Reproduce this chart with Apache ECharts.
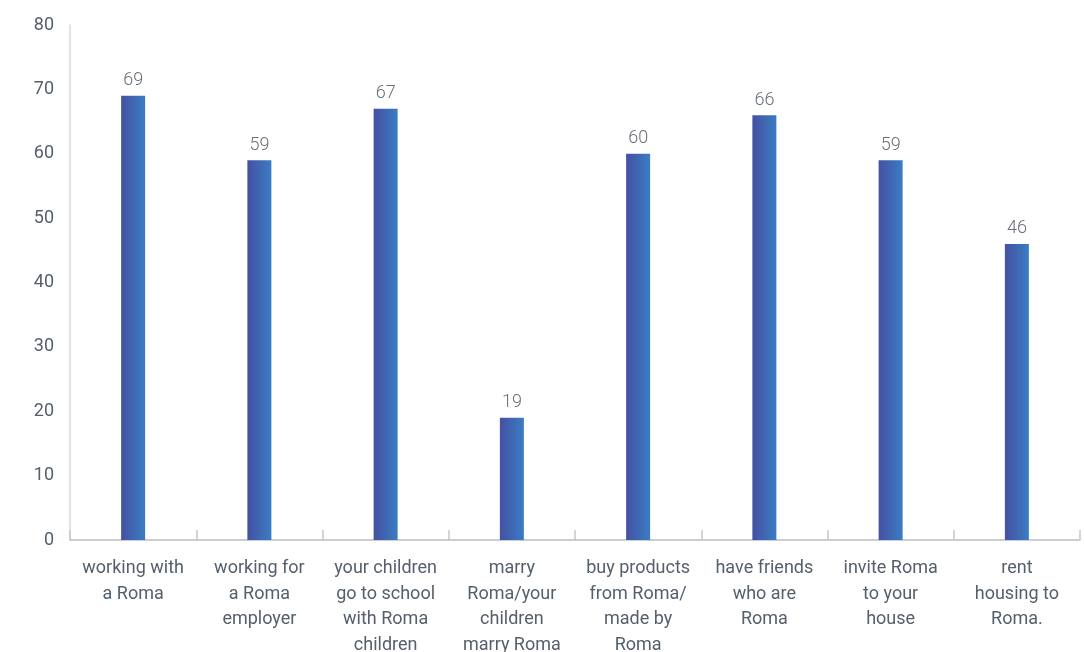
<!DOCTYPE html>
<html><head><meta charset="utf-8">
<script src="https://cdn.jsdelivr.net/npm/echarts@6/dist/echarts.min.js"></script>
<style>html,body{margin:0;padding:0;background:#fff}#c{width:1084px;height:652px}</style>
</head><body><div id="c"></div>
<script>
const categories = [
  "working with\na Roma",
  "working for\na Roma\nemployer",
  "your children\ngo to school\nwith Roma\nchildren",
  "marry\nRoma/your\nchildren\nmarry Roma",
  "buy products\nfrom Roma/\nmade by\nRoma",
  "have friends\nwho are\nRoma",
  "invite Roma\nto your\nhouse",
  "rent\nhousing to\nRoma."
];
const values = [69, 59, 67, 19, 60, 66, 59, 46];

const chart = echarts.init(document.getElementById('c'), null, {renderer: 'canvas'});
chart.setOption({
  animation: false,
  backgroundColor: '#ffffff',
  grid: {left: 70, right: 4, top: 25, bottom: 112, containLabel: false, outerBoundsMode: 'none'},
  xAxis: {
    type: 'category',
    data: categories,
    axisLine: {lineStyle: {color: '#b9bec4', width: 1.5}},
    axisTick: {show: true, inside: true, length: 10, lineStyle: {color: '#c4c8cd', width: 1.5}},
    axisLabel: {
      interval: 0, margin: 16, color: '#55606c',
      fontFamily: 'Roboto', fontSize: 18, lineHeight: 25.5
    }
  },
  yAxis: {
    type: 'value', min: 0, max: 80, interval: 10,
    axisLine: {show: true, lineStyle: {color: '#d6dade', width: 1.5}},
    axisTick: {show: false},
    splitLine: {show: false},
    axisLabel: {color: '#55606c', fontFamily: 'Roboto', fontSize: 18, margin: 16}
  },
  series: [{
    type: 'bar',
    data: values,
    barWidth: 24,
    itemStyle: {
      color: new echarts.graphic.LinearGradient(0, 0, 1, 0, [
        {offset: 0, color: '#4550a2'},
        {offset: 1, color: '#3a7dc4'}
      ])
    },
    label: {
      show: true, position: 'top', distance: 6,
      color: '#6a7079', fontFamily: 'Roboto', fontWeight: 300, fontSize: 18
    }
  }]
});
</script></body></html>
